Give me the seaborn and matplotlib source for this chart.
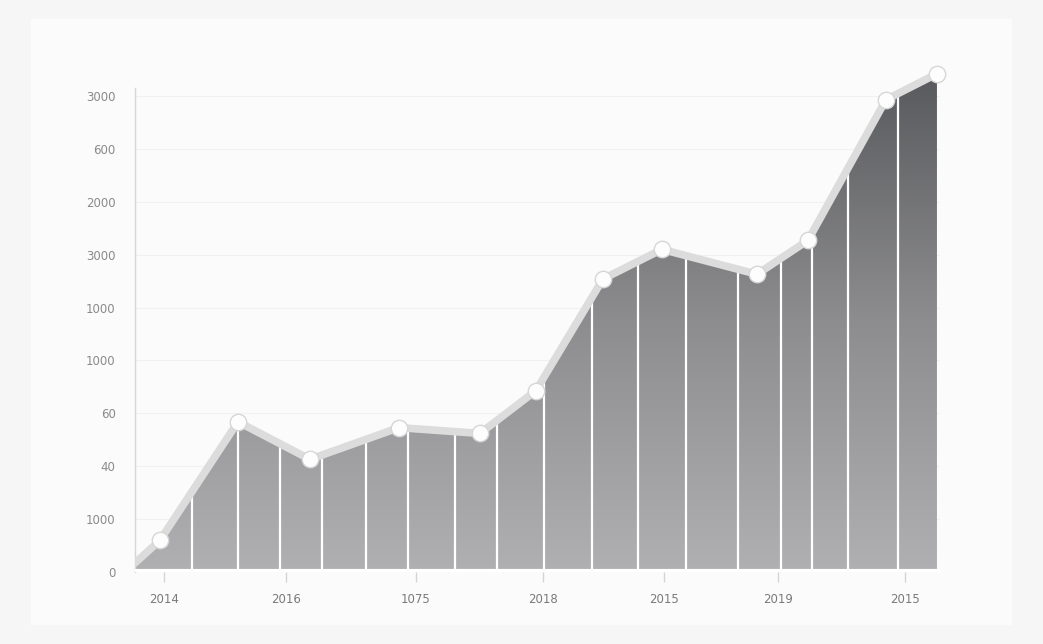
import numpy as np
import pandas as pd
import matplotlib
matplotlib.use("Agg")
import matplotlib.pyplot as plt
from matplotlib.colors import LinearSegmentedColormap
from matplotlib.patches import Polygon
import seaborn as sns

# ---- data ----
x_pts = [0.0, 2.5, 10.3, 17.5, 26.4, 34.5, 40.1, 46.8, 52.7, 62.2, 67.3, 75.1, 80.2]
y_vals = [0.17, 0.60, 2.84, 2.13, 2.73, 2.62, 3.43, 5.54, 6.10, 5.63, 6.27, 8.93, 9.42]
marker_x = x_pts[1:]
marker_y = y_vals[1:]
divider_x = [5.7, 10.3, 14.5, 18.7, 23.1, 27.3, 32.0, 36.2, 40.9, 45.7, 50.3, 55.1,
             60.3, 64.6, 67.7, 71.3, 76.3]
y_tick_labels = ["0", "1000", "40", "60", "1000", "1000", "3000", "2000", "600", "3000"]
x_tick_pos = [2.9, 15.1, 28.1, 40.8, 52.9, 64.3, 77.0]
x_tick_labels = ["2014", "2016", "1075", "2018", "2015", "2019", "2015"]

sns.set_theme(style="white")
plt.rcParams["font.family"] = ["DejaVu Sans"]

fig = plt.figure(figsize=(10.43, 6.44), dpi=100, facecolor="#f6f6f6")
card = fig.add_axes([0.03, 0.03, 0.94, 0.94])
card.set_facecolor("#fbfbfb")
card.set_xticks([]); card.set_yticks([])
for s in card.spines.values():
    s.set_visible(False)

ax = fig.add_axes([0.1294, 0.1118, 0.7718, 0.795])
ax.set_facecolor("#fbfbfb")
ax.set_xlim(0, 80.5)
ax.set_ylim(0.0, 9.68)

for k in range(1, 10):
    ax.axhline(k, color="#f1f1f1", lw=0.8, zorder=0)

df = pd.DataFrame({"x": x_pts, "y": y_vals})
verts = [(x_pts[0], 0)] + list(zip(x_pts, y_vals)) + [(x_pts[-1], 0)]
poly = Polygon(verts, closed=True, facecolor="none", edgecolor="none")
ax.add_patch(poly)
cmap = LinearSegmentedColormap.from_list("g", ["#b0b0b2", "#8d8d8f", "#58595c"])
grad = np.linspace(0, 1, 256).reshape(-1, 1)
im = ax.imshow(grad, extent=[0, 80.5, 0, 9.5], origin="lower", aspect="auto",
               cmap=cmap, zorder=1)
im.set_clip_path(poly)

tops = np.interp(divider_x, x_pts, y_vals)
ax.vlines(divider_x, 0, tops, color="white", lw=1.6, zorder=2)

sns.lineplot(data=df, x="x", y="y", ax=ax, color="#dcdcdc", lw=5.5,
             zorder=3, legend=False, solid_capstyle="round")
mdf = pd.DataFrame({"x": marker_x, "y": marker_y})
sns.scatterplot(data=mdf, x="x", y="y", ax=ax, s=140, color="#fdfdfd",
                edgecolor="#d6d6d6", linewidth=1.0, zorder=4, legend=False,
                clip_on=False)

ax.axhline(0.02, color="white", lw=3, zorder=5)

ax.set_yticks(range(10))
ax.set_yticklabels(y_tick_labels)
ax.set_xticks(x_tick_pos)
ax.set_xticklabels(x_tick_labels)
ax.tick_params(axis="y", length=0, pad=14, labelsize=8.5, labelcolor="#8a8a8a")
ax.tick_params(axis="x", length=7, width=1, color="#d4d4d4", pad=8,
               labelsize=8.5, labelcolor="#7a7a7a", bottom=True)
ax.set_xlabel(""); ax.set_ylabel("")

for s in ["top", "right", "bottom"]:
    ax.spines[s].set_visible(False)
ax.spines["left"].set_color("#d6d6d6")
ax.spines["left"].set_linewidth(1)
ax.spines["left"].set_bounds(0, 9.15)

fig.savefig("out.png", dpi=100, facecolor=fig.get_facecolor())
